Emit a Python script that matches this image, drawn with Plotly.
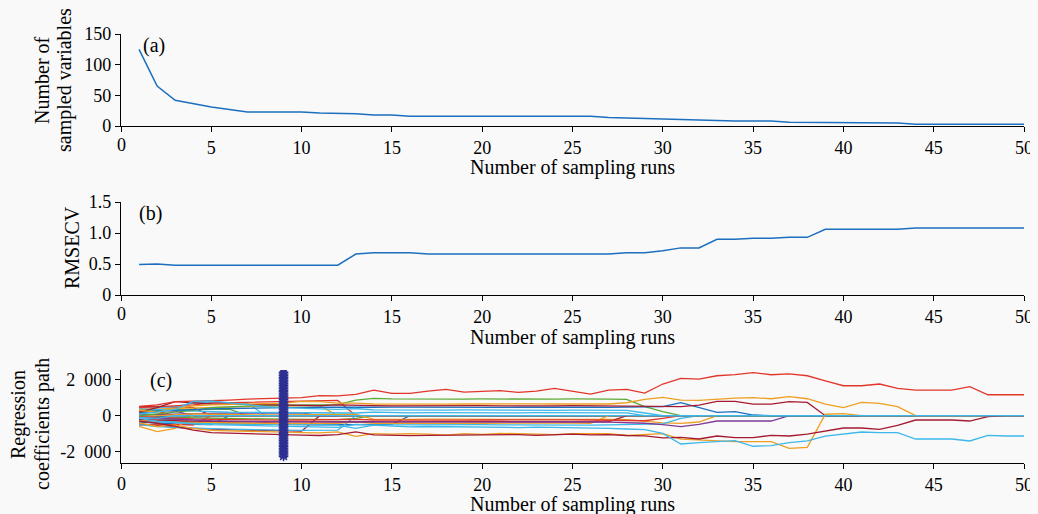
import plotly.graph_objects as go

OFF = 8  # page body margin of the browser
W, H = 1038 - OFF, 514 - OFF

runs = list(range(1, 51))
run_ticks = [0, 5, 10, 15, 20, 25, 30, 35, 40, 45, 50]

# (a) number of sampled variables per run
n_vars = [125, 65, 42, 36, 31, 27, 23, 23, 23, 23, 21, 21, 20, 18, 18,
          16, 16, 16, 16, 16, 16, 16, 16, 16, 16, 16,
          14, 13, 13, 11, 11, 10, 8, 8, 8, 8, 6, 6, 6, 6, 5, 5, 5,
          3, 3, 3, 3, 3, 3, 3]

# (b) RMSECV per run
rmsecv = [0.49, 0.50] + [0.48] * 10 + [0.66, 0.68, 0.68, 0.68] + [0.66] * 11 + \
         [0.68, 0.68, 0.715, 0.76, 0.76, 0.90, 0.90, 0.915, 0.915, 0.93, 0.93] + \
         [1.06] * 5 + [1.08] * 7

# (c) regression coefficient paths (coefficient is 0 after a variable is eliminated)
c01 = [520, 600, 780, 800, 820, 870, 920, 960, 1000, 1000,
       1120, 1100, 1185, 1425, 1240, 1240, 1370, 1460, 1315, 1370,
       1390, 1295, 1370, 1517, 1370, 1200, 1425, 1460, 1260, 1760,
       2070, 2035, 2220, 2280, 2390, 2275, 2330, 2220, 1940, 1665,
       1665, 1760, 1517, 1425, 1425, 1425, 1610, 1165, 1165, 1165]
c02 = [-150, -300, -350, -450, -500, -520, -560, -580, -600, -620,
       -640, -650, -480, -540, -600, -620, -600, -620, -640, -650,
       -640, -660, -640, -650, -680, -700, -700, -740, -780, -980,
       -1572, -1500, -1425, -1390, -1700, -1665, -1500, -1406, -1130, -1020,
       -906, -943, -943, -1295, -1295, -1295, -1406, -1090, -1130, -1130]
c03 = [-300, -420, -600, -800, -943, -960, -980, -1000, -1050, -1080,
       -1100, -1050, -900, -1070, -1100, -1110, -1090, -1080, -1070, -1060,
       -1090, -1050, -1090, -1060, -1030, -1070, -1050, -1100, -1120, -1230,
       -1200, -1295, -1130, -1220, -1220, -1090, -1130, -1020, -870, -685,
       -685, -760, -537, -240, -240, -240, -296, -55, 0, 0]
c04 = [-400, -600, -520, -700, -820, -850, -880, -900, -920, -940,
       -950, -900, -1150, -1000, -1020, -1000, -1030, -1080, -1000, -1040,
       -980, -1010, -1000, -1050, -1000, -1010, -1000, -1100, -1050, -1000,
       -1300, -1350, -1406, -1443, -1443, -1443, -1813, -1757, 80, 120]
c05 = [300, 200, 400, 550, 600, 620, 650, 680, 700, 800,
       780, 700, 700, 650, 640, 660, 650, 640, 650, 660,
       640, 650, 660, 650, 640, 660, 650, 720, 906, 1017,
       870, 850, 925, 980, 1000, 943, 1055, 943, 648, 444,
       740, 685, 500]
c06 = [200, 450, 777, 700, 650, 640, 620, 600, 600, 580,
       560, 600, 560, 560, 550, 560, 550, 540, 550, 560,
       550, 540, 560, 550, 560, 550, 540, 550, 560, 540,
       500, 592, 795, 795, 648, 648, 777, 740]
c07 = [150, 250, 300, 350, 380, 400, 420, 430, 450, 460,
       480, 470, 450, 470, 480, 470, 460, 470, 480, 470,
       460, 470, 480, 470, 460, 470, 460, 470, 480, 500,
       720, 460, 185, 222, 37]
c08 = [0, 100, 200, 300, 450, 500, 550, 580, 580, 600,
       600, 620, 870, 962, 930, 920, 930, 940, 920, 930,
       920, 900, 910, 920, 930, 940, 920, 906, 500, 222]
c09 = [-100, -150, -200, -250, -280, -300, -300, -310, -320, -330,
       -340, -350, -330, -350, -340, -350, -360, -350, -340, -350,
       -360, -350, -340, -350, -360, -350, -360, -380, -420, -500,
       -610, -480, -296, -296, -296, -296]
c10 = [100, 200, 350, 800, 820, 700, 600, 500, 450, 400,
       380, 350, 400, 320, 310, 320, 300, 310, 320, 310,
       300, 310, 320, 300, 310, 300, 310, 300, 150]
c11 = [300, 350, 300, 250, 200, 190, 180, 180, 170, 170,
       180, 170, 150, 200, 170, 160, 170, 160, 170, 160,
       170, 160, 170, 160, 170, 160, 170, 160]
c12 = [-50, -100, -150, -180, -200, -220, -230, -240, -250, -240,
       -230, -250, -200, -240, -250, -240, -230, -240, -250, -240,
       -230, -240, -250, -240, -230, -240, -250, -240, -280, -150]
c13 = [-200, -250, -280, -300, -320, -330, -340, -350, -340, -330,
       -320, -340, -300, -330, -340, -330, -320, -330, -340, -330,
       -320, -330, -340, -330, -320, -330, -340]
c14 = [-250, -300, -320, -350, -380, -400, -420, -430, -440, -450,
       -430, -420, -350, -420, -430, -420, -410, -420, -430, -420,
       -410, -420, -430, -420, -410, -420]
c15 = [-300, -350, -400, -420, -440, -460, -470, -480, -490, -500,
       -510, -520, -700, -520, -510, -500, -510, -520, -510, -500,
       -510, -520, -510, -500, -510, -520, -510, -500, -480, -450, -150]
c16 = [-50, 0, 50, 100, 80, 60, 50, 40, 50, 60,
       50, 40, 80, -200, -180, -200, -190, -200, -210, -200,
       -190, -200, -210, -200, -190, -200, -210, -220, -300, -400, -425, -350]
c17 = [450, 500, 550, 600, 700, 720, 740, 760, 780, 800, 820, 850]
c18 = [-500, -600, -650, -700, -720, -750, -780, -800, -800, -820, -830, -800]
c19 = [-80, -100, -120, -130, -150, -160, -170, -180, -190, -200, -210, -220, -150]
c20 = [-200, -300, -350, -400, -420, -450, -470, -480, -490, -500, -510, -500, -520, -500, -480]
c21 = [350, 380, 400, 450, 480, 500, 520, 530, 540, 550, 560]
c22 = [50, 80, 100, 120, 130, 140, 150, 150, 160, 160]
c23 = [-450, -550, -650, -700, -750, -780, -800, -820, -840, -860]
c24 = [400, 450, 500, 700, 750, 720, 700]
c25 = [250, 300, 320, 350, 360, 370]
c26 = [-350, -420, -460, -480, -500]
c27 = [-520, -500, -480, -520]
c28 = [-600, -880, -700]
c29 = [350, 300, 250]
c30 = [100, 50]
c31 = [500, 520, 480, 450]
c32 = [0, -50, -80, -60, -40]
c33 = [-300, -250, -200]
c34 = [200, 250]
c35 = [-100, -150]

RED, ORG, YEL, PUR, GRN, LBL, DRD, BLU = ("#E2362B", "#EE9F22", "#EDB120", "#7E3A96",
                                          "#5DAA35", "#3DB8EA", "#A51A30", "#1C6FBE")
coef_paths = [
    (c31, DRD), (c32, BLU), (c33, GRN), (c34, RED), (c29, PUR), (c30, LBL),
    (c25, GRN), (c26, BLU), (c27, RED), (c28, ORG), (c24, LBL), (c23, DRD),
    (c22, PUR), (c21, ORG), (c20, BLU), (c19, GRN), (c18, LBL), (c17, RED),
    (c16, ORG), (c15, LBL), (c14, ORG), (c13, DRD), (c12, RED), (c11, LBL),
    (c09, PUR), (c08, GRN), (c07, BLU), (c06, DRD), (c05, ORG), (c04, ORG),
    (c03, DRD), (c02, LBL), (c01, RED), (c10, LBL), (c35, LBL),
]

optimal_run = 9
star_y = list(range(-2270, 2411, 90))

TICK_FONT = dict(family="Liberation Serif", size=18, color="black")
TITLE_FONT = dict(family="Liberation Serif", size=20, color="black")
BG = "#f9f9f9"


def px(x):
    return (x - OFF) / W


def py(y):
    return 1 - (y - OFF) / H


fig = go.Figure()

fig.add_trace(go.Scatter(x=runs, y=n_vars, mode="lines",
                         line=dict(color="#1C6FBE", width=1.5),
                         xaxis="x", yaxis="y", showlegend=False))
fig.add_trace(go.Scatter(x=runs, y=rmsecv, mode="lines",
                         line=dict(color="#1C6FBE", width=1.5),
                         xaxis="x2", yaxis="y2", showlegend=False))

for vals, col in coef_paths:
    full = list(vals) + [0] * (50 - len(vals))
    fig.add_trace(go.Scatter(x=runs, y=full, mode="lines",
                             line=dict(color=col, width=1.3),
                             xaxis="x3", yaxis="y3", showlegend=False))

fig.add_trace(go.Scatter(x=[optimal_run] * len(star_y), y=star_y, mode="lines+markers",
                         line=dict(color="#2E3192", width=2),
                         marker=dict(symbol="asterisk-open", size=8,
                                     line=dict(color="#2E3192", width=1.5)),
                         xaxis="x3", yaxis="y3", showlegend=False))

# the first x tick label ("0") is written as an annotation below
x_ticktext = [""] + [str(v) for v in run_ticks[1:]]

xdom = [px(121), px(1024)]
common_x = dict(range=[0, 50], tickmode="array", tickvals=run_ticks,
                ticktext=x_ticktext,
                showgrid=False, zeroline=False, showline=True, linecolor="black",
                linewidth=1.3, ticks="outside", ticklen=5, tickwidth=1.3,
                tickcolor="black", tickfont=TICK_FONT, domain=xdom, automargin=False,
                ticklabeloverflow="allow")
common_y = dict(showgrid=False, zeroline=False, showline=True, linecolor="black",
                linewidth=1.3, ticks="outside", ticklen=5, tickwidth=1.3,
                tickcolor="black", tickfont=TICK_FONT, automargin=False,
                ticklabeloverflow="allow")

SP = "\u2007"
fig.update_layout(
    width=W, height=H,
    margin=dict(l=0, r=0, t=0, b=0),
    paper_bgcolor=BG, plot_bgcolor=BG,
    font=TICK_FONT,
    xaxis=dict(**common_x, anchor="y"),
    xaxis2=dict(**common_x, anchor="y2"),
    xaxis3=dict(**common_x, anchor="y3"),
    yaxis=dict(**common_y, range=[0, 150], tickvals=[0, 50, 100, 150],
               domain=[py(126), py(34)], anchor="x"),
    yaxis2=dict(**common_y, range=[0, 1.5], tickvals=[0, 0.5, 1.0, 1.5],
                ticktext=["0", "0.5", "1.0", "1.5"],
                domain=[py(295), py(202)], anchor="x2"),
    yaxis3=dict(**common_y, range=[-2630, 2540], tickvals=[-2000, 0, 2000],
                ticktext=["-2" + SP + "000", "0", "2" + SP + "000"],
                domain=[py(463), py(370)], anchor="x3"),
)

annots = [
    ("Number of sampling runs", 572, 168, 0, "center", TITLE_FONT),
    ("Number of sampling runs", 572, 337, 0, "center", TITLE_FONT),
    ("Number of sampling runs", 572, 504, 0, "center", TITLE_FONT),
    ("Number of", 42, 80, -90, "center", TITLE_FONT),
    ("sampled variables", 64, 80, -90, "center", TITLE_FONT),
    ("RMSECV", 72, 248, -90, "center", TITLE_FONT),
    ("Regression", 18, 415, -90, "center", TITLE_FONT),
    ("coefficients path", 42, 424, -90, "center", TITLE_FONT),
    ("(a)", 141, 45, 0, "left", TITLE_FONT),
    ("(b)", 137, 213, 0, "left", TITLE_FONT),
    ("(c)", 148, 380, 0, "left", TITLE_FONT),
    ("0", 121, 145, 0, "center", TICK_FONT),
    ("0", 121, 314, 0, "center", TICK_FONT),
    ("0", 121, 484, 0, "center", TICK_FONT),
]
for text, x, y, ang, xa, fnt in annots:
    fig.add_annotation(text=text, x=px(x), y=py(y), xref="paper", yref="paper",
                       showarrow=False, textangle=ang, xanchor=xa, yanchor="middle",
                       font=fnt)

fig.write_html("out.html",
               post_script="document.body.style.background='%s';"
                           "document.body.style.overflow='hidden';" % BG)
